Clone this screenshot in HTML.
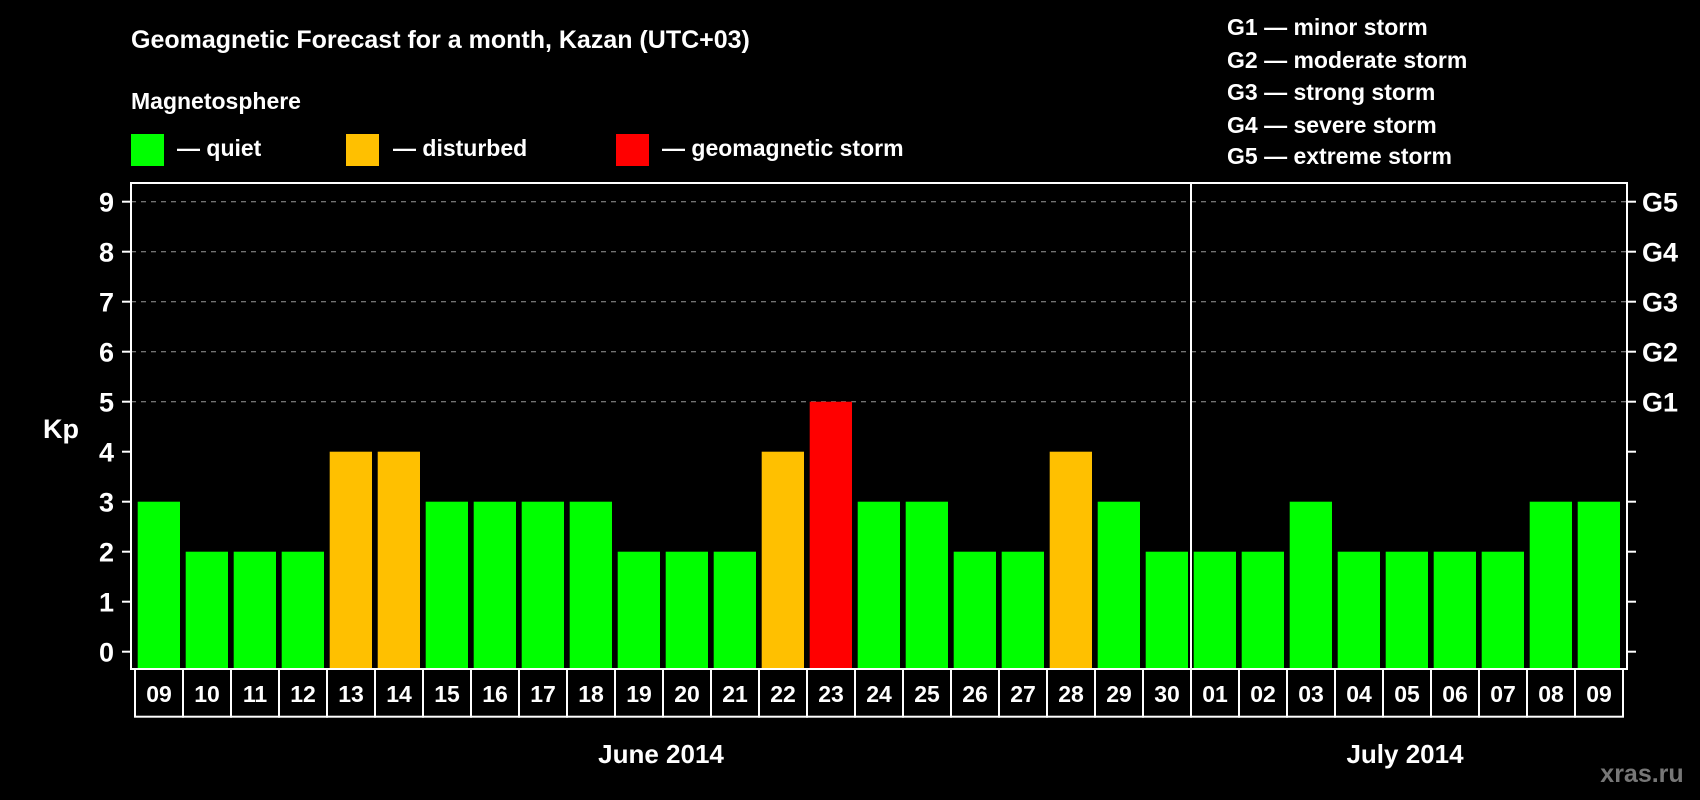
<!DOCTYPE html>
<html><head><meta charset="utf-8"><style>
html,body{margin:0;padding:0;background:#000;}
svg{display:block;font-family:"Liberation Sans",Arial,sans-serif;font-weight:bold;}
</style></head><body>
<svg id="chart" width="1700" height="800" viewBox="0 0 1700 800">
<rect x="0" y="0" width="1700" height="800" fill="#000"/>
<text x="131" y="48" fill="#fff" font-size="25">Geomagnetic Forecast for a month, Kazan (UTC+03)</text>
<text x="131" y="109" fill="#fff" font-size="23">Magnetosphere</text>
<g><rect x="131" y="134" width="33" height="32" fill="#00ff00"/><text x="177" y="156" fill="#fff" font-size="23">— quiet</text></g>
<g><rect x="346" y="134" width="33" height="32" fill="#ffc000"/><text x="393" y="156" fill="#fff" font-size="23">— disturbed</text></g>
<g><rect x="616" y="134" width="33" height="32" fill="#ff0000"/><text x="662" y="156" fill="#fff" font-size="23">— geomagnetic storm</text></g>
<g fill="#fff" font-size="23">
<text x="1227" y="35">G1 — minor storm</text>
<text x="1227" y="68">G2 — moderate storm</text>
<text x="1227" y="100">G3 — strong storm</text>
<text x="1227" y="133">G4 — severe storm</text>
<text x="1227" y="164">G5 — extreme storm</text>
</g>
<text x="43" y="438" fill="#fff" font-size="27">Kp</text>
<g id="grid"></g>
<g id="bars"></g>
<g id="axes"></g>
<text x="661" y="763" fill="#fff" font-size="26" text-anchor="middle">June 2014</text>
<text x="1405" y="763" fill="#fff" font-size="26" text-anchor="middle">July 2014</text>
<text x="1642" y="782" fill="#777" font-size="25" text-anchor="middle">xras.ru</text>
</svg>
<script>
const days = ["09","10","11","12","13","14","15","16","17","18","19","20","21","22","23","24","25","26","27","28","29","30","01","02","03","04","05","06","07","08","09"];
const kpValues = [3,2,2,2,4,4,3,3,3,3,2,2,2,4,5,3,3,2,2,4,3,2,2,2,3,2,2,2,2,3,3];
const yTicks = [0,1,2,3,4,5,6,7,8,9];
const gLabels = ["G1","G2","G3","G4","G5"];
const gLevels = [5,6,7,8,9];
const monthSplitIndex = 22;

const NS="http://www.w3.org/2000/svg";
const L=131,R=1627,T=183,B=669,boxL=135,pitch=48;
function y(v){return 651.7-50*v;}
function xs(i){return boxL+pitch*i;}
function mk(tag,attrs,parent){const e=document.createElementNS(NS,tag);for(const k in attrs)e.setAttribute(k,attrs[k]);parent.appendChild(e);return e;}
const grid=document.getElementById('grid'),bars=document.getElementById('bars'),axes=document.getElementById('axes');
gLevels.forEach((v,i)=>{
  const ln=mk('line',{x1:L,x2:R,y1:y(v),y2:y(v),stroke:'#999','stroke-width':1,'stroke-dasharray':'5,5'},grid);
  
  
  const t=mk('text',{x:1642,y:y(v)+10,fill:'#fff','font-size':27},axes);
  t.textContent=gLabels[i];
  
  
});
function color(v){return v>=5?'#ff0000':(v>=4?'#ffc000':'#00ff00');}
kpValues.forEach((v,i)=>{
  const r=mk('rect',{x:xs(i)+2.7,y:y(v),width:42.3,height:B-y(v),fill:color(v)},bars);
  
  
  const b=mk('rect',{x:xs(i),y:B,width:pitch,height:47.7,fill:'#000',stroke:'#fff','stroke-width':2},axes);
  
  
  const t=mk('text',{x:xs(i)+pitch/2,y:B+33,fill:'#fff','font-size':23,'text-anchor':'middle'},axes);
  t.textContent=days[i];
  
  
});
const fr=mk('rect',{x:L,y:T,width:R-L,height:B-T,fill:'none',stroke:'#fff','stroke-width':2},axes);


const sep=mk('line',{x1:xs(monthSplitIndex),x2:xs(monthSplitIndex),y1:T,y2:B,stroke:'#fff','stroke-width':2},axes);


yTicks.forEach(v=>{
  mk('line',{x1:122,x2:L,y1:y(v),y2:y(v),stroke:'#fff','stroke-width':2},axes);
  mk('line',{x1:R,x2:R+9,y1:y(v),y2:y(v),stroke:'#fff','stroke-width':2},axes);
  const t=mk('text',{x:114,y:y(v)+10,fill:'#fff','font-size':27,'text-anchor':'end'},axes);
  t.textContent=v;
  
  
});
</script>
</body></html>
